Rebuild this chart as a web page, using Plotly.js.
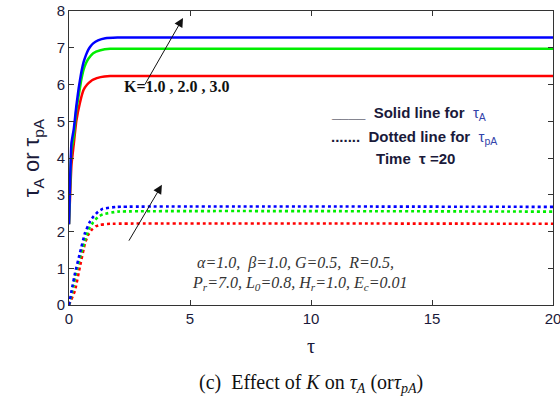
<!DOCTYPE html>
<html><head><meta charset="utf-8">
<script src="https://cdn.plot.ly/plotly-3.0.1.min.js"></script>
<style>html,body{margin:0;padding:0;background:#fff}</style>
</head><body>
<div id="chart" style="width:560px;height:406px"></div>
<script>
// Solid lines (tau_A)
const tauSolidBlue = [0, 0.05, 0.1, 0.2, 0.3, 0.4, 0.5, 0.6, 0.7, 0.8, 0.9, 1.0, 1.2, 1.5, 2.0, 20];
const solidBlue    = [2.2, 3.5, 4.4, 4.8, 5.4, 5.9, 6.3, 6.6, 6.8, 6.95, 7.05, 7.12, 7.2, 7.26, 7.28, 7.28];
const tauSolidGreen = [0, 0.1, 0.2, 0.3, 0.4, 0.5, 0.6, 0.7, 0.8, 1.0, 1.3, 1.7, 20];
const solidGreen    = [2.2, 4.2, 4.6, 5.3, 5.7, 6.1, 6.4, 6.58, 6.7, 6.85, 6.93, 6.97, 6.97];
const tauSolidRed = [0, 0.1, 0.2, 0.3, 0.45, 0.6, 0.75, 0.9, 1.0, 1.3, 1.7, 20];
const solidRed    = [2.2, 3.8, 4.4, 5.0, 5.5, 5.85, 6.0, 6.09, 6.13, 6.2, 6.23, 6.23];
// Dotted lines (tau_pA)
const tauDotBlue = [0, 0.11, 0.25, 0.45, 0.66, 0.85, 1.0, 1.2, 1.4, 2.0, 20];
const dotBlue    = [0, 0.4, 0.87, 1.41, 1.96, 2.25, 2.4, 2.54, 2.62, 2.67, 2.67];
const tauDotGreen = [0, 0.15, 0.3, 0.5, 0.7, 0.85, 1.0, 1.2, 1.4, 2.0, 20];
const dotGreen    = [0, 0.4, 0.9, 1.4, 1.85, 2.1, 2.25, 2.4, 2.47, 2.54, 2.54];
const tauDotRed = [0, 0.25, 0.45, 0.66, 0.8, 0.94, 1.1, 1.28, 1.7, 20];
const dotRed    = [0, 0.4, 1.04, 1.68, 1.92, 2.05, 2.14, 2.18, 2.21, 2.21];

const xTicks = [0, 5, 10, 15, 20];
const yTicks = [0, 1, 2, 3, 4, 5, 6, 7, 8];

const BLUE = '#0000ff', GREEN = '#00ee00', RED = '#ff0000';
function tr(x, y, c, dash) {
  return {x: x, y: y, type: 'scatter', mode: 'lines', line: {color: c, width: dash ? 2.6 : 2.5, dash: dash || 'solid', shape: 'spline', smoothing: 0.3}, hoverinfo: 'skip'};
}
const data = [
  tr(tauSolidRed, solidRed, RED), tr(tauSolidGreen, solidGreen, GREEN), tr(tauSolidBlue, solidBlue, BLUE),
  tr(tauDotRed, dotRed, RED, 'dot'), tr(tauDotGreen, dotGreen, GREEN, 'dot'), tr(tauDotBlue, dotBlue, BLUE, 'dot')
];

const lblFont = {family: 'Arial, Liberation Sans, sans-serif', size: 15, color: '#1a1a3a'};
const legFont = {family: 'Arial, Liberation Sans, sans-serif', size: 15, color: '#1a1a3a'};
const paramFont = {family: 'Liberation Serif, Times New Roman, serif', size: 16, color: '#333'};

const layout = {
  width: 560, height: 406,
  margin: {l: 69, r: 7, t: 11, b: 101},
  paper_bgcolor: '#fff', plot_bgcolor: '#fff',
  showlegend: false,
  xaxis: {
    range: [0, 20], tickvals: xTicks, ticktext: xTicks.map(String), ticklabeloverflow: 'allow',
    ticks: 'inside', ticklen: 5, tickcolor: '#333', showline: true, linecolor: '#333', linewidth: 1,
    mirror: 'ticks', showgrid: false, zeroline: false, tickfont: lblFont,
    title: {text: 'τ', font: {family: 'Liberation Serif, serif', size: 20, color: '#1a1a3a'}, standoff: 12}
  },
  yaxis: {
    range: [0, 8], tickvals: yTicks, ticktext: yTicks.map(String),
    ticks: 'inside', ticklen: 5, tickcolor: '#333', showline: true, linecolor: '#333', linewidth: 1,
    mirror: 'ticks', showgrid: false, zeroline: false, tickfont: lblFont,
    title: {text: 'τ<sub>A</sub> or τ<sub>pA</sub>', font: {family: 'Arial, Liberation Sans, sans-serif', size: 22, color: '#1a1a3a'}, standoff: 10}
  },
  annotations: [
    {x: 4.71, y: 7.81, ax: 3.1, ay: 5.96, axref: 'x', ayref: 'y', xref: 'x', yref: 'y', text: '', showarrow: true, arrowhead: 2, arrowsize: 1.8, arrowwidth: 1, arrowcolor: '#111'},
    {x: 3.84, y: 3.27, ax: 2.44, ay: 1.71, axref: 'x', ayref: 'y', xref: 'x', yref: 'y', text: '', showarrow: true, arrowhead: 2, arrowsize: 1.8, arrowwidth: 1, arrowcolor: '#111'},
    {x: 2.2, y: 5.95, xref: 'x', yref: 'y', xanchor: 'left', yanchor: 'middle', showarrow: false,
     text: '<b>K=1.0 , 2.0 , 3.0</b>', font: {family: 'Liberation Serif, Times New Roman, serif', size: 16, color: '#111'}},
    {x: 10.75, y: 5.2, xref: 'x', yref: 'y', xanchor: 'left', yanchor: 'middle', showarrow: false,
     text: '<b>____  Solid line for</b>  <span style="color:#3344aa">τ<sub>A</sub></span>', font: legFont},
    {x: 10.75, y: 4.55, xref: 'x', yref: 'y', xanchor: 'left', yanchor: 'middle', showarrow: false,
     text: '<b>.......  Dotted line for</b>  <span style="color:#3344aa">τ<sub>pA</sub></span>', font: legFont},
    {x: 12.6, y: 4.0, xref: 'x', yref: 'y', xanchor: 'left', yanchor: 'middle', showarrow: false,
     text: '<b>Time  τ =20</b>', font: legFont},
    {x: 5.2, y: 1.15, xref: 'x', yref: 'y', xanchor: 'left', yanchor: 'middle', showarrow: false,
     text: '<i>α=1.0,  β=1.0, G=0.5,  R=0.5,</i>', font: paramFont},
    {x: 5.0, y: 0.58, xref: 'x', yref: 'y', xanchor: 'left', yanchor: 'middle', showarrow: false,
     text: '<i>P<sub>r</sub>=7.0, L<sub>0</sub>=0.8, H<sub>r</sub>=1.0, E<sub>c</sub>=0.01</i>', font: paramFont},
    {x: 0.5, y: -0.268, xref: 'paper', yref: 'paper', xanchor: 'center', yanchor: 'middle', showarrow: false,
     text: '(c)  Effect of <i>K</i> on <i>τ<sub>A</sub></i> (or<i>τ<sub>pA</sub></i>)', font: {family: 'Liberation Serif, Times New Roman, serif', size: 20, color: '#111'}}
  ]
};
Plotly.newPlot('chart', data, layout, {staticPlot: true, displayModeBar: false});
</script>
</body></html>
